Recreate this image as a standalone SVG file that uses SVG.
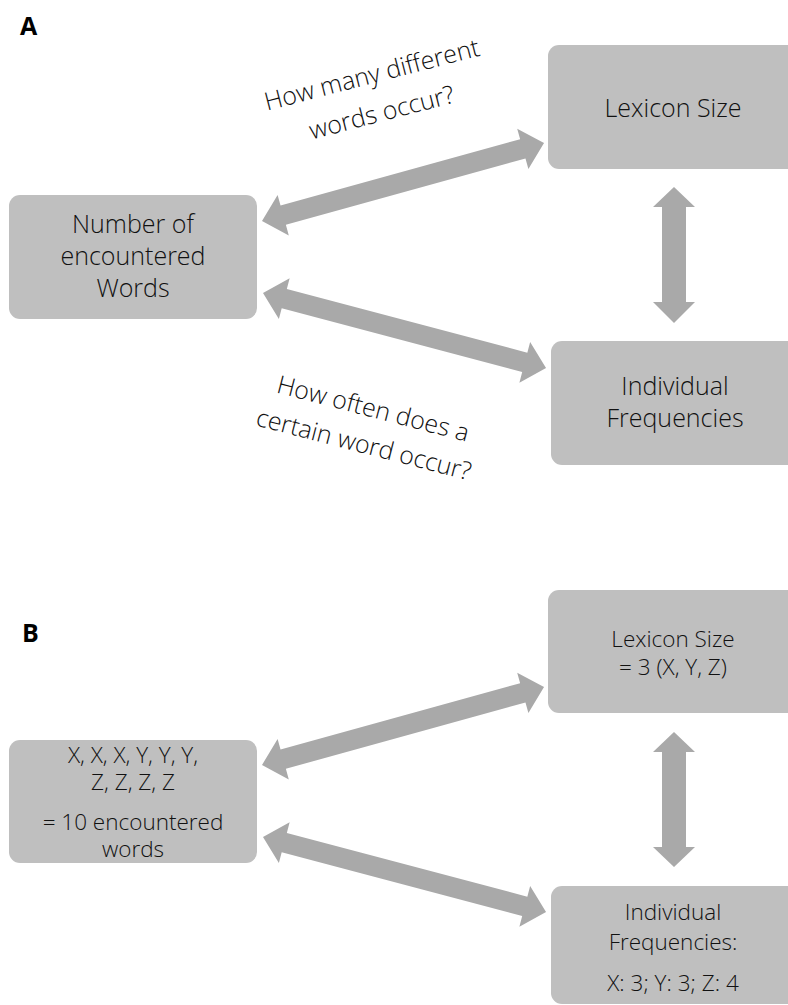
<svg xmlns="http://www.w3.org/2000/svg" width="788" height="1005" viewBox="0 0 788 1005">
  <style>
    .box { fill: #bfbfbf; }
    .arrow { fill: #a9a9a9; }
    .t { font-family: "Open Sans", "Liberation Sans", sans-serif; font-weight: 300; fill: #111; text-anchor: middle; }
    .a { font-size: 25px; }
    .b { font-size: 22.5px; }
    .lbl { font-family: "Open Sans", "Liberation Sans", sans-serif; font-weight: 700; font-size: 25px; fill: #000; }
  </style>
  <rect width="788" height="1005" fill="#ffffff"/>

  <!-- Panel labels -->
  <text class="lbl" x="20" y="35">A</text>
  <text class="lbl" x="22" y="642">B</text>

  <!-- Connectors -->
  <g id="connectors">
    <!-- Panel A -->
    <path class="arrow" transform="translate(262,221) rotate(-15.46)" d="M0,0 L22,-21 L22,-10 L270.6,-10 L270.6,-21 L292.6,0 L270.6,21 L270.6,10 L22,10 L22,21 Z"/>
    <path class="arrow" transform="translate(263,293) rotate(14.84)" d="M0,0 L22,-21 L22,-10 L270.8,-10 L270.8,-21 L292.8,0 L270.8,21 L270.8,10 L22,10 L22,21 Z"/>
    <path class="arrow" d="M674,187 L695,207 L686,207 L686,302 L695,302 L674,323 L653,302 L662,302 L662,207 L653,207 Z"/>
    <!-- Panel B -->
    <path class="arrow" transform="translate(262,765) rotate(-15.46)" d="M0,0 L22,-21 L22,-10 L270.6,-10 L270.6,-21 L292.6,0 L270.6,21 L270.6,10 L22,10 L22,21 Z"/>
    <path class="arrow" transform="translate(263,837) rotate(14.84)" d="M0,0 L22,-21 L22,-10 L270.8,-10 L270.8,-21 L292.8,0 L270.8,21 L270.8,10 L22,10 L22,21 Z"/>
    <path class="arrow" d="M674,732 L695,752 L686,752 L686,847 L695,847 L674,867 L653,847 L662,847 L662,752 L653,752 Z"/>
  </g>

  <!-- Rotated connector labels (panel A) -->
  <g id="label-lexicon" transform="translate(374,83) rotate(-14.5)">
    <text class="t a" x="0" y="0">How many different<tspan x="0" dy="39">words occur?</tspan></text>
  </g>
  <g id="label-frequency" transform="translate(371,417) rotate(14.5)">
    <text class="t a" x="0" y="0">How often does a<tspan x="0" dy="37">certain word occur?</tspan></text>
  </g>

  <!-- Panel A nodes -->
  <g id="a-words">
    <rect class="box" x="9" y="195" width="248" height="124" rx="11"/>
    <text class="t a" x="133" y="233">Number of<tspan x="133" dy="32">encountered</tspan><tspan x="133" dy="32">Words</tspan></text>
  </g>
  <g id="a-lexicon">
    <rect class="box" x="548" y="45" width="260" height="124" rx="11"/>
    <text class="t a" x="673" y="117">Lexicon Size</text>
  </g>
  <g id="a-frequencies">
    <rect class="box" x="551" y="341" width="260" height="124" rx="11"/>
    <text class="t a" x="675" y="395">Individual<tspan x="675" dy="32">Frequencies</tspan></text>
  </g>

  <!-- Panel B nodes -->
  <g id="b-words">
    <rect class="box" x="9" y="740" width="248" height="123" rx="11"/>
    <text class="t b" x="133" y="763">X, X, X, Y, Y, Y,<tspan x="133" dy="27">Z, Z, Z, Z</tspan><tspan x="133" dy="40">= 10 encountered</tspan><tspan x="133" dy="27">words</tspan></text>
  </g>
  <g id="b-lexicon">
    <rect class="box" x="548" y="590" width="260" height="123" rx="11"/>
    <text class="t b" x="673" y="647">Lexicon Size<tspan x="673" dy="28">= 3 (X, Y, Z)</tspan></text>
  </g>
  <g id="b-frequencies">
    <rect class="box" x="551" y="886" width="260" height="118" rx="11"/>
    <text class="t b" x="673" y="920">Individual<tspan x="673" dy="30">Frequencies:</tspan><tspan x="673" dy="41">X: 3; Y: 3; Z: 4</tspan></text>
  </g>
</svg>
